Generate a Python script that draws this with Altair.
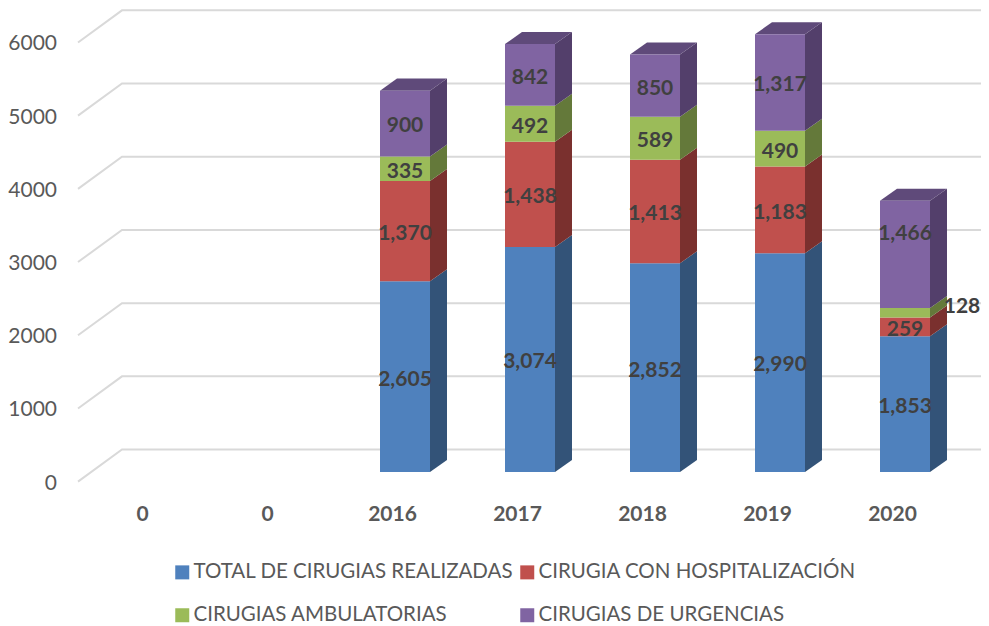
import altair as alt
import pandas as pd

categories = ["0", "0", "2016", "2017", "2018", "2019", "2020"]
bar_years = ["2016", "2017", "2018", "2019", "2020"]
series_names = ["TOTAL DE CIRUGIAS REALIZADAS", "CIRUGIA CON HOSPITALIZACIÓN",
                "CIRUGIAS AMBULATORIAS", "CIRUGIAS DE URGENCIAS"]
total = [2605, 3074, 2852, 2990, 1853]
hospital = [1370, 1438, 1413, 1183, 259]
ambulatory = [335, 492, 589, 490, 128]
urgent = [900, 842, 850, 1317, 1466]
y_ticks = [0, 1000, 2000, 3000, 4000, 5000, 6000]

front_colors = ["#4F81BD", "#C0504D", "#9BBB59", "#8064A2"]
side_colors = ["#335378", "#7A302E", "#64793A", "#533F6B"]
top_color = "#5F4A7A"
FONT = "Lato"

# geometry in scale units (x: category step, y: value)
HALF = 0.2
DX = 0.136
DY = 164
GRID_FRONT_X, GRID_BACK_X, GRID_END_X = -0.616, -0.264, 6.608
GRID_FRONT_DY, GRID_BACK_DY = -132, 307

x_scale = alt.Scale(domain=[-1.176, 6.608], nice=False, zero=False)
y_scale = alt.Scale(domain=[-2103.8, 6338.8], nice=False, zero=False)
X = lambda f: alt.X(f, type="quantitative", scale=x_scale, axis=None)
Y = lambda f: alt.Y(f, type="quantitative", scale=y_scale, axis=None)

grid_rows = []
for t in y_ticks:
    grid_rows += [
        {"k": t, "o": 0, "x": GRID_FRONT_X, "y": t + GRID_FRONT_DY},
        {"k": t, "o": 1, "x": GRID_BACK_X, "y": t + GRID_BACK_DY},
        {"k": t, "o": 2, "x": GRID_END_X, "y": t + GRID_BACK_DY},
    ]

fronts, sides, tops, labels = [], [], [], []
all_series = [total, hospital, ambulatory, urgent]
for i, year in enumerate(bar_years):
    c = i + 2
    base = 0
    for s, values in enumerate(all_series):
        v = values[i]
        top = base + v
        bar_id = f"{year}-{s}"
        fronts.append({"x": c - HALF, "x2": c + HALF, "y": base, "y2": top, "serie": series_names[s]})
        sides += [
            {"id": bar_id, "x": c + HALF, "y": base, "y2": top, "col": side_colors[s]},
            {"id": bar_id, "x": c + HALF + DX, "y": base + DY, "y2": top + DY, "col": side_colors[s]},
        ]
        lx = c + 0.456 if v == 128 else c
        if v == 128:
            ly = top + 18
        elif v == 1466:
            ly = base + v / 2 + 280
        else:
            ly = base + v / 2 - 40
        labels.append({"x": lx, "y": ly, "t": f"{v:,}"})
        base = top
    tops += [
        {"id": year, "y": base, "x": c - HALF, "x2": c + HALF},
        {"id": year, "y": base + DY, "x": c - HALF + DX, "x2": c + HALF + DX},
    ]

grid = alt.Chart(pd.DataFrame(grid_rows)).mark_line(color="#D9D9D9", strokeWidth=2).encode(
    x=X("x"), y=Y("y"), detail="k:N", order="o:Q")

side = alt.Chart(pd.DataFrame(sides)).mark_area(orient="vertical", opacity=1).encode(
    x=X("x"), y=Y("y"), y2="y2:Q", detail="id:N",
    color=alt.Color("col:N", scale=None))

topf = alt.Chart(pd.DataFrame(tops)).mark_area(orient="horizontal", color=top_color, opacity=1).encode(
    y=Y("y"), x=X("x"), x2="x2:Q", detail="id:N")

legend_order = [0, 2, 1, 3]
front = alt.Chart(pd.DataFrame(fronts)).mark_rect().encode(
    x=X("x"), x2="x2:Q", y=Y("y"), y2="y2:Q",
    color=alt.Color("serie:N",
                    scale=alt.Scale(domain=[series_names[i] for i in legend_order],
                                    range=[front_colors[i] for i in legend_order]),
                    legend=alt.Legend(orient="none", legendX=164, legendY=554, columns=2, title=None,
                                      symbolType="square", symbolSize=196, symbolStrokeWidth=0,
                                      labelFont=FONT, labelFontSize=20.5, labelColor="#595959",
                                      labelOffset=1, columnPadding=3, rowPadding=22, labelLimit=400)))

label_text = alt.Chart(pd.DataFrame(labels)).mark_text(
    font=FONT, fontSize=21, fontWeight="bold", color="#404040", baseline="middle", align="center"
).encode(x=X("x"), y=Y("y"), text="t:N")

ytext = alt.Chart(pd.DataFrame({"y": [t - 158 for t in y_ticks], "x": [-0.784] * 7, "t": [str(t) for t in y_ticks]})).mark_text(
    font=FONT, fontSize=21, color="#595959", baseline="middle", align="right"
).encode(x=X("x"), y=Y("y"), text="t:N")

xtext = alt.Chart(pd.DataFrame({"x": [i - 0.1 for i in range(7)], "y": [-585] * 7, "t": categories})).mark_text(
    font=FONT, fontSize=21, fontWeight="bold", color="#595959", baseline="middle", align="center"
).encode(x=X("x"), y=Y("y"), text="t:N")

chart = alt.layer(grid, side, topf, front, label_text, ytext, xtext).resolve_scale(color="independent").properties(
    width=973, height=618, padding=0, autosize=alt.AutoSizeParams(type="none")
).configure_view(stroke=None)

chart.save("out.html", embed_options={"renderer": "svg", "actions": False})
